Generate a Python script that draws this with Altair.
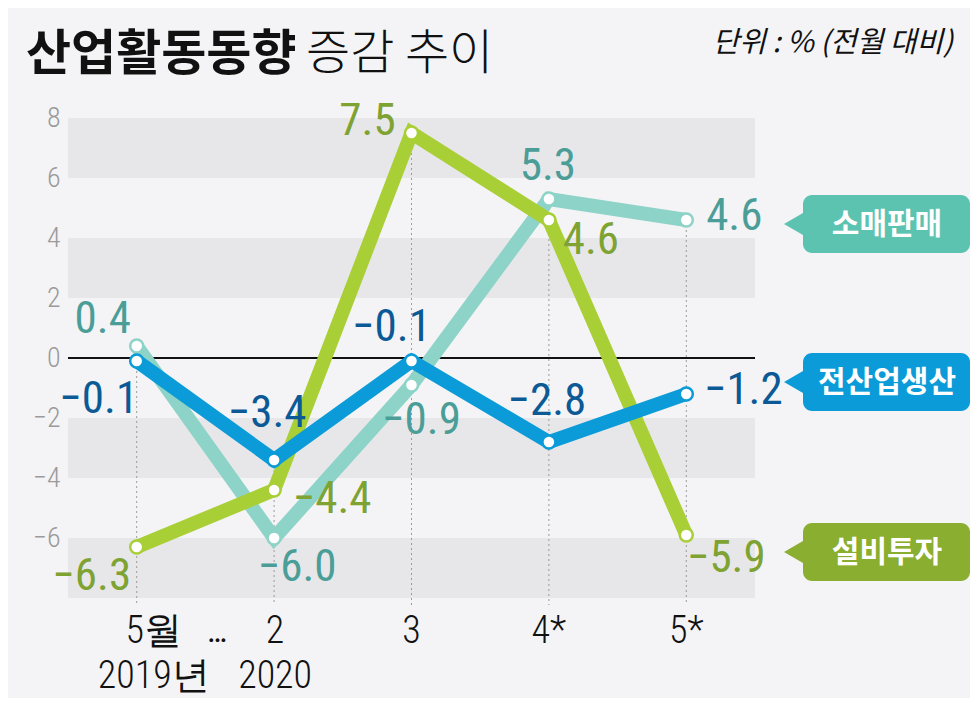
import altair as alt
import pandas as pd

# ---------------- data ----------------
months = ["2019-05", "2020-02", "2020-03", "2020-04", "2020-05"]
tick_top = ["5월", "2", "3", "4*", "5*"]
tick_bottom = ["2019년", "2020", "", "", ""]
series_names = ["소매판매", "전산업생산", "설비투자"]
retail = [0.4, -6.0, -0.9, 5.3, 4.6]
production = [-0.1, -3.4, -0.1, -2.8, -1.2]
investment = [-6.3, -4.4, 7.5, 4.6, -5.9]
y_ticks = [-6, -4, -2, 0, 2, 4, 6, 8]
band_low = [6, 2, -4, -8]
band_high = [8, 4, -2, -6]
title_bold = "산업활동동향"
title_light = "증감 추이"
unit_text = "단위 : % (전월 대비)"

values = {"소매판매": retail, "전산업생산": production, "설비투자": investment}

# ---------------- styles ----------------
W, H = 687, 480
NUM_FONT = "Liberation Sans Narrow, Roboto Condensed, DejaVu Sans Condensed, sans-serif"
KR_FONT = "Noto Sans CJK KR"
line_colors = {"소매판매": "#8dd3c7", "전산업생산": "#0a9bd8", "설비투자": "#a9cf36"}
label_colors = {"소매판매": "#4b9e97", "전산업생산": "#0b5a96", "설비투자": "#7fa332"}
badge_colors = {"소매판매": "#5cc3b1", "전산업생산": "#0a9bd8", "설비투자": "#8aae2f"}
label_dx = {"소매판매": [-34, 23, 10, -1, 48],
            "전산업생산": [-38, -7, -20, -2, 57],
            "설비투자": [-45, 58, -44, 42, 40]}
label_dy = {"소매판매": [-27, 29, 35, -33, -4],
            "전산업생산": [38, -47, -34, -41, -4],
            "설비투자": [29, 9, -12, 20, 23]}
badge_top = {"소매판매": 77, "전산업생산": 235, "설비투자": 405}
badge_h = 58
tick_dx = [17, 1, 0, 0, 0]

# ---------------- tables ----------------
rows = []
for s in series_names:
    for m, v in zip(months, values[s]):
        rows.append({"series": s, "month": m, "value": v})
df = pd.DataFrame(rows)
df_bands = pd.DataFrame({"lo": band_low, "hi": band_high})
df_top = df.groupby("month", as_index=False)["value"].max()
one = pd.DataFrame({"a": [0]})

xenc = alt.X("month:O", scale=alt.Scale(type="point", domain=months, padding=0.5), axis=None)
yscale = alt.Scale(domain=[-8, 8], nice=False, zero=False)
yaxis = alt.Axis(values=y_ticks, labelFontSize=28, labelColor="#9a9a9a", labelFont=NUM_FONT,
                 domain=False, ticks=False, grid=False, labelPadding=8, title=None,
                 labelFontWeight=300)
yenc = alt.Y("value:Q", scale=yscale, axis=yaxis)

layers = []

# shaded bands
layers.append(
    alt.Chart(df_bands).mark_rect(color="#e7e7ea").encode(
        x=alt.value(0), x2=alt.value(W),
        y=alt.Y("hi:Q", scale=yscale, axis=yaxis), y2="lo:Q")
)
# zero line
layers.append(
    alt.Chart(pd.DataFrame({"value": [0]})).mark_rule(color="#111111", strokeWidth=2).encode(
        x=alt.value(0), x2=alt.value(W), y=yenc)
)
# dotted verticals
layers.append(
    alt.Chart(df_top).mark_rule(color="#9a9a9a", strokeWidth=1, strokeDash=[2, 3]).encode(
        x=xenc, y=yenc, y2=alt.value(H + 7))
)
# lines
for s in ["소매판매", "설비투자", "전산업생산"]:
    layers.append(
        alt.Chart(df[df.series == s]).mark_line(
            color=line_colors[s], strokeWidth=14, strokeJoin="miter").encode(x=xenc, y=yenc)
    )
# points
for s in ["소매판매", "설비투자", "전산업생산"]:
    layers.append(
        alt.Chart(df[df.series == s]).mark_point(
            filled=True, fill="white", stroke=line_colors[s], strokeWidth=2.5,
            size=170, opacity=1, shape="circle").encode(x=xenc, y=yenc)
    )
# value labels
for s in series_names:
    for i, (m, v) in enumerate(zip(months, values[s])):
        txt = f"{v:.1f}".replace("-", "\u2212")
        layers.append(
            alt.Chart(pd.DataFrame({"month": [m], "value": [v]})).mark_text(
                text=txt, font=NUM_FONT, fontSize=45, fontWeight="normal",
                color=label_colors[s], align="center", baseline="middle",
                dx=label_dx[s][i], dy=label_dy[s][i]).encode(x=xenc, y=yenc)
        )
# x tick labels
for i, m in enumerate(months):
    layers.append(
        alt.Chart(pd.DataFrame({"month": [m]})).mark_text(
            text=tick_top[i], font=NUM_FONT, fontSize=38, fontWeight=300, color="#111111",
            align="center", baseline="middle", dx=tick_dx[i]).encode(
            x=xenc, y=alt.value(514))
    )
    if tick_bottom[i]:
        layers.append(
            alt.Chart(pd.DataFrame({"month": [m]})).mark_text(
                text=tick_bottom[i], font=NUM_FONT, fontSize=38, fontWeight=300,
                color="#111111", align="center", baseline="middle", dx=tick_dx[i]).encode(
                x=xenc, y=alt.value(559))
        )
layers.append(
    alt.Chart(one).mark_text(text="\u2026", font=NUM_FONT, fontSize=34, color="#111111",
                             align="center", baseline="middle").encode(
        x=alt.value(149), y=alt.value(514))
)
# badges
tri = "M -1 0 L 1 -1.15 L 1 1.15 Z"
for s in series_names:
    top = badge_top[s]
    layers.append(
        alt.Chart(one).mark_rect(color=badge_colors[s], cornerRadius=9).encode(
            x=alt.value(735), x2=alt.value(902), y=alt.value(top), y2=alt.value(top + badge_h))
    )
    layers.append(
        alt.Chart(one).mark_point(shape=tri, size=484, filled=True, color=badge_colors[s],
                                  opacity=1).encode(
            x=alt.value(727), y=alt.value(top + badge_h / 2))
    )
    layers.append(
        alt.Chart(one).mark_text(text=s, font=KR_FONT, fontWeight="bold", fontSize=30,
                                 color="white", align="center", baseline="middle").encode(
            x=alt.value(819), y=alt.value(top + badge_h / 2 + 1))
    )
# titles
layers.append(
    alt.Chart(one).mark_text(text=title_bold, font=KR_FONT, fontWeight="bold", fontSize=49,
                             color="#111111", align="left", baseline="middle").encode(
        x=alt.value(-42), y=alt.value(-63))
)
layers.append(
    alt.Chart(one).mark_text(text=title_light, font=KR_FONT, fontWeight=300, fontSize=48,
                             color="#111111", align="left", baseline="middle").encode(
        x=alt.value(238), y=alt.value(-63))
)
layers.append(
    alt.Chart(one).mark_text(text=unit_text, font=KR_FONT, fontStyle="italic", fontSize=29,
                             color="#111111", align="right", baseline="middle").encode(
        x=alt.value(885), y=alt.value(-75))
)

chart = alt.layer(*layers).properties(
    width=W, height=H,
    padding={"left": 60, "top": 110, "right": 215, "bottom": 100},
    autosize=alt.AutoSizeParams(type="none"),
).configure(background="#f4f4f6").configure_view(stroke=None)

chart.save("out.html", embed_options={"renderer": "svg", "actions": False})
